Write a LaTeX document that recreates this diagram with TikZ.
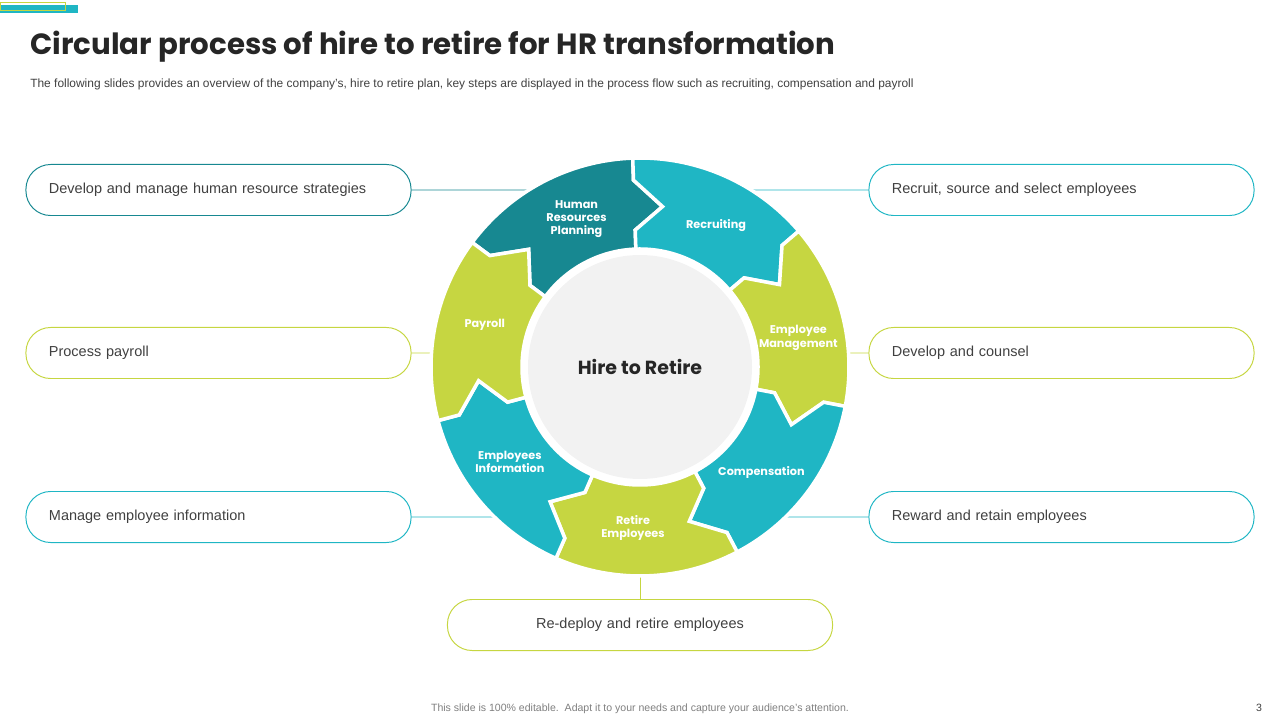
\documentclass[tikz,border=0pt]{standalone}
\usepackage{fontspec}
\setmainfont{Liberation Sans}
\newfontfamily\gothic{Poppins}
\usetikzlibrary{calc, positioning}
\definecolor{tealdk}{HTML}{178891}
\definecolor{tealmd}{HTML}{1FB6C4}
\definecolor{lime}{HTML}{C6D641}
\definecolor{hubgray}{HTML}{F2F2F2}
\definecolor{inkdark}{HTML}{262626}
\definecolor{inkbody}{HTML}{404040}
\definecolor{inkfoot}{HTML}{7F7F7F}
\tikzset{
  pill/.style={draw, rounded corners=17.5pt, line width=0.7pt, minimum height=1.275cm,
    text width=8.475cm, inner xsep=0.575cm, inner ysep=0pt, align=left,
    font=\fontsize{10.3}{12}\selectfont, text=inkbody},
  seglabel/.style={font=\gothic\bfseries\fontsize{8}{9.5}\selectfont, text=white, align=center},
  link/.style={line width=0.7pt}
}

\begin{document}
\begin{tikzpicture}[x=0.025cm, y=0.025cm]
  \useasboundingbox (0,0) rectangle (1280,-720);

  % ── Corner mark ──────────────────────────────────────────────────────
  \fill[tealmd] (0,-5) rectangle (78,-13);
  \draw[lime, line width=0.7pt] (0,-2) rectangle (65,-10);

  % ── Heading ──────────────────────────────────────────────────────────
  \node[anchor=base west, inner sep=0, text=inkdark,
        font=\gothic\bfseries\fontsize{20.8}{24}\selectfont] (title) at (30,-55)
    {Circular process of hire to retire for HR transformation};
  \node[anchor=base west, inner sep=0, text=inkbody,
        font=\fontsize{8.5}{10}\selectfont] (subtitle) at (30,-88)
    {The following slides provides an overview of the company's, hire to retire plan, key steps are displayed in the process flow such as recruiting, compensation and payroll};

  % ── Side boxes ───────────────────────────────────────────────────────
  \node[pill, draw=tealdk] (hrpbox)  at (218.5,-190)  {Develop and manage human resource strategies};
  \node[pill, draw=lime]   (paybox)  at (218.5,-353)  {Process payroll};
  \node[pill, draw=tealmd] (eibox)   at (218.5,-517)  {Manage employee information};
  \node[pill, draw=tealmd] (recbox)  at (1061.5,-190) {Recruit, source and select employees};
  \node[pill, draw=lime]   (embox)   at (1061.5,-353) {Develop and counsel};
  \node[pill, draw=tealmd] (compbox) at (1061.5,-517) {Reward and retain employees};
  \node[pill, draw=lime, align=center] (retbox) at (640,-625) {Re-deploy and retire employees};

  % ── Connectors to the ring edge (R = 208) ────────────────────────────
  \coordinate (c) at (640,-367);
  \coordinate (hrpend)  at ($(c)+({180-asin(177/208)}:208)$);
  \coordinate (payend)  at ($(c)+({180-asin(14/208)}:208)$);
  \coordinate (eiend)   at ($(c)+({180+asin(150/208)}:208)$);
  \coordinate (recend)  at ($(c)+({asin(177/208)}:208)$);
  \coordinate (emend)   at ($(c)+({asin(14/208)}:208)$);
  \coordinate (compend) at ($(c)+({-asin(150/208)}:208)$);
  \coordinate (retend)  at ($(c)+(-90:208)$);
  \draw[link, tealdk] (hrpbox.east)  -- (hrpend);
  \draw[link, lime]   (paybox.east)  -- (payend);
  \draw[link, tealmd] (eibox.east)   -- (eiend);
  \draw[link, tealmd] (recbox.west)  -- (recend);
  \draw[link, lime]   (embox.west)   -- (emend);
  \draw[link, tealmd] (compbox.west) -- (compend);
  \draw[link, lime]   (retbox.north) -- (retend);

  % ── Ring of arrow segments (7 × 51.43 deg, clockwise) ────────────────
  \foreach \a/\col/\nm/\lab in {
    143.43/tealdk/hrp/{Human\\Resources\\Planning},
    92/tealmd/rec/Recruiting,
    40.57/lime/em/{Employee\\Management},
    -10.86/tealmd/comp/Compensation,
    -62.29/lime/ret/{Retire\\Employees},
    -113.71/tealmd/ei/{Employees\\Information},
    -165.14/lime/pay/Payroll}{
    \pgfmathsetmacro{\b}{\a-51.43}
    \filldraw[fill=\col, draw=white, line width=2.5pt]
      ($(c)+(\a:209)$) arc[start angle=\a, end angle=\b, radius=209]
      -- ($(c)+(\b:187)$) -- ($(c)+({\b-10}:162)$) -- ($(c)+(\b:137)$) -- ($(c)+(\b:118)$)
      arc[start angle=\b, end angle=\a, radius=118]
      -- ($(c)+(\a:137)$) -- ($(c)+({\a-10}:162)$) -- ($(c)+(\a:187)$) -- cycle;
    \node[seglabel] (\nm) at ($(c)+({\a-30.2}:161)$) {\lab};
  }

  % ── Hub ──────────────────────────────────────────────────────────────
  \fill[hubgray] (c) circle[radius=112];
  \node[font=\gothic\bfseries\fontsize{13.5}{16}\selectfont, text=inkdark] (hub) at (c) {Hire to Retire};

  % ── Footer ───────────────────────────────────────────────────────────
  \node[anchor=base, inner sep=0, text=inkfoot, font=\fontsize{7.5}{9}\selectfont] (foot) at (640,-711)
    {This slide is 100\% editable.\ \ Adapt it to your needs and capture your audience's attention.};
  \node[anchor=base, inner sep=0, text=inkbody, font=\fontsize{7.5}{9}\selectfont] (pagenum) at (1259,-711) {3};
\end{tikzpicture}
\end{document}
